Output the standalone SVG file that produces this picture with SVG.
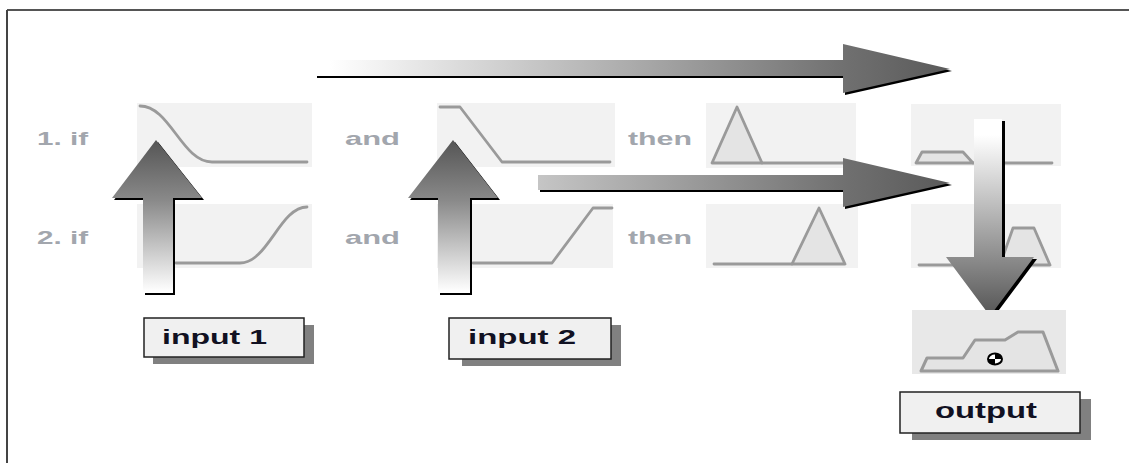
<svg xmlns="http://www.w3.org/2000/svg" width="1129" height="463" viewBox="0 0 1129 463">
<defs>
<linearGradient id="gh" gradientUnits="userSpaceOnUse" x1="330" y1="0" x2="950" y2="0">
<stop offset="0" stop-color="#ffffff"/>
<stop offset="0.83" stop-color="#707070"/>
<stop offset="1" stop-color="#5a5a5a"/>
</linearGradient>
<linearGradient id="gu" gradientUnits="userSpaceOnUse" x1="0" y1="292" x2="0" y2="140">
<stop offset="0" stop-color="#ffffff"/>
<stop offset="0.6" stop-color="#8a8a8a"/>
<stop offset="1" stop-color="#555555"/>
</linearGradient>
<linearGradient id="gd" gradientUnits="userSpaceOnUse" x1="0" y1="135" x2="0" y2="316">
<stop offset="0" stop-color="#ffffff"/>
<stop offset="0.68" stop-color="#8c8c8c"/>
<stop offset="1" stop-color="#555555"/>
</linearGradient>
</defs>
<style>
.panel{fill:#f2f2f2;stroke:none}
.opanel{fill:#e8e8e8;stroke:none}
.curve{fill:none;stroke:#9a9a9a;stroke-width:2.8;stroke-linejoin:round;stroke-linecap:round}
.mf{fill:#e4e4e4;stroke:#9a9a9a;stroke-width:2.8;stroke-linejoin:round}
.rule{font-family:"Liberation Sans",Arial,sans-serif;font-weight:bold;font-size:19px;fill:#a2a6ad}
.lbl{font-family:"Liberation Sans",Arial,sans-serif;font-weight:bold;font-size:21px;fill:#111122}
.box{fill:#f0f0f0;stroke:#222;stroke-width:1.5}
.shadow{fill:#808080}
.ash{fill:#000}
</style>
<g id="frame">
<line x1="7" y1="10" x2="1129" y2="10" stroke="#555" stroke-width="2"/>
<line x1="7" y1="10" x2="7" y2="463" stroke="#444" stroke-width="2"/>
</g>
<g id="rule-labels">
<text class="rule" x="37" y="145" textLength="51" lengthAdjust="spacingAndGlyphs">1. if</text>
<text class="rule" x="37" y="244" textLength="51" lengthAdjust="spacingAndGlyphs">2. if</text>
<text class="rule" x="345" y="145" textLength="55" lengthAdjust="spacingAndGlyphs">and</text>
<text class="rule" x="345" y="244" textLength="55" lengthAdjust="spacingAndGlyphs">and</text>
<text class="rule" x="628" y="145" textLength="64" lengthAdjust="spacingAndGlyphs">then</text>
<text class="rule" x="628" y="244" textLength="64" lengthAdjust="spacingAndGlyphs">then</text>
</g>
<g id="mf-1-input1">
<rect class="panel" x="137" y="103" width="175" height="64"/>
<path class="curve" d="M140,106 C170,106 182,162 212,162 L307,162"/>
</g>
<g id="mf-2-input1">
<rect class="panel" x="137" y="204" width="175" height="64"/>
<path class="curve" d="M176,263 L240,263 C268,263 280,207 307,207"/>
</g>
<g id="mf-1-input2">
<rect class="panel" x="437" y="103" width="178" height="64"/>
<path class="curve" d="M440,107 L460,107 L502,162 L610,162"/>
</g>
<g id="mf-2-input2">
<rect class="panel" x="437" y="204" width="176" height="64"/>
<path class="curve" d="M473,263 L552,263 L593,208 L612,208"/>
</g>
<g id="mf-1-then">
<rect class="panel" x="706" y="103" width="150" height="65"/>
<path class="mf" d="M712,163 L737,107 L762,163 Z"/>
<path class="curve" d="M762,163 L845,163"/>
</g>
<g id="mf-2-then">
<rect class="panel" x="706" y="204" width="152" height="64"/>
<path class="mf" d="M792,264 L819,208 L845,264 Z"/>
<path class="curve" d="M714,264 L792,264"/>
</g>
<g id="mf-1-out">
<rect class="panel" x="911" y="104" width="150" height="62"/>
<path class="mf" d="M916,163 L922,152 L963,152 L973,163 Z"/>
<path class="curve" d="M973,163 L1052,163"/>
</g>
<g id="mf-2-out">
<rect class="panel" x="911" y="204" width="150" height="64"/>
<path class="mf" d="M1000,265 L1013,228 L1034,228 L1050,265 Z"/>
<path class="curve" d="M919,265 L1000,265"/>
</g>
<g id="connectors">
<path class="ash" transform="translate(2,2)" d="M315,60 L843,60 L843,44 L950,69 L843,93 L843,76 L315,76 Z"/>
<path fill="url(#gh)" d="M315,60 L843,60 L843,44 L950,69 L843,93 L843,76 L315,76 Z"/>
<path class="ash" transform="translate(2,2)" d="M538,175 L843,175 L843,158 L950,183 L843,207 L843,190 L538,190 Z"/>
<path fill="url(#gh)" d="M538,175 L843,175 L843,158 L950,183 L843,207 L843,190 L538,190 Z"/>
<path class="ash" transform="translate(2,2)" d="M156,140 L202,198 L173,198 L173,293 L143,293 L143,198 L112,198 Z"/>
<path fill="url(#gu)" d="M156,140 L202,198 L173,198 L173,293 L143,293 L143,198 L112,198 Z"/>
<path class="ash" transform="translate(2,2)" d="M453,140 L498,198 L470,198 L470,293 L438,293 L438,198 L408,198 Z"/>
<path fill="url(#gu)" d="M453,140 L498,198 L470,198 L470,293 L438,293 L438,198 L408,198 Z"/>
<path class="ash" transform="translate(3,2)" d="M974,119 L1002,119 L1002,257 L1034,257 L990,316 L946,257 L974,257 Z"/>
<path fill="url(#gd)" d="M974,119 L1002,119 L1002,257 L1034,257 L990,316 L946,257 L974,257 Z"/>
</g>
<g id="output-set">
<rect class="opanel" x="912" y="310" width="154" height="64"/>
<path fill="#e4e4e4" stroke="#9a9a9a" stroke-width="3" stroke-linejoin="round" d="M921,371 L927,358 L963,358 L975,340 L1005,340 L1018,332 L1043,332 L1058,371 Z"/>
<ellipse cx="995" cy="359" rx="7" ry="5.5" fill="#fff" stroke="#000" stroke-width="2"/>
<path d="M995,359 L995,353.5 A7,5.5 0 0 1 1002,359 Z" fill="#000"/>
<path d="M995,359 L995,364.5 A7,5.5 0 0 1 988,359 Z" fill="#000"/>
</g>
<g id="input1">
<rect class="shadow" x="153" y="325" width="161" height="39"/>
<rect class="box" x="144" y="318" width="160" height="39"/>
<text class="lbl" x="162" y="344" textLength="105" lengthAdjust="spacingAndGlyphs">input 1</text>
</g>
<g id="input2">
<rect class="shadow" x="462" y="325" width="159" height="41"/>
<rect class="box" x="449" y="318" width="162" height="41"/>
<text class="lbl" x="468" y="344" textLength="108" lengthAdjust="spacingAndGlyphs">input 2</text>
</g>
<g id="output">
<rect class="shadow" x="912" y="399" width="179" height="41"/>
<rect class="box" x="900" y="392" width="180" height="41"/>
<text class="lbl" x="935" y="418" textLength="102" lengthAdjust="spacingAndGlyphs" style="font-size:22px">output</text>
</g>
</svg>
